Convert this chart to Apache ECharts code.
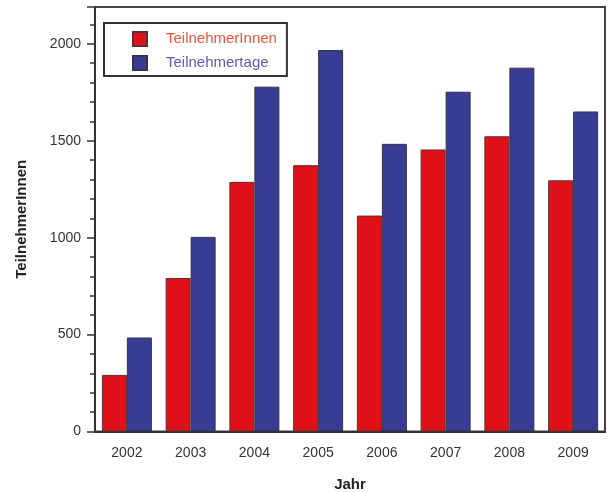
<!DOCTYPE html>
<html>
<head>
<meta charset="utf-8">
<script src="https://cdn.jsdelivr.net/npm/echarts@6/dist/echarts.min.js"></script>
<style>html,body{margin:0;padding:0;background:#fff;}#c{width:609px;height:492px;}</style>
</head>
<body>
<div id="c"></div>
<script>
var years = ['2002','2003','2004','2005','2006','2007','2008','2009'];
var teilnehmerInnen = [292, 792, 1288, 1374, 1114, 1455, 1523, 1296];
var teilnehmertage = [485, 1004, 1779, 1968, 1484, 1753, 1877, 1651];
var seriesNames = ['TeilnehmerInnen', 'Teilnehmertage'];
var xName = 'Jahr';
var yName = 'TeilnehmerInnen';

var chart = echarts.init(document.getElementById('c'), null, {renderer: 'canvas'});
var font = 'Liberation Sans, Arial, sans-serif';
chart.setOption({
  animation: false,
  backgroundColor: '#fff',
  grid: {left: 95, right: 4, top: 7, bottom: 60.5, containLabel: false, outerBoundsMode: 'none',
    show: true, borderColor: '#444', borderWidth: 2, backgroundColor: 'transparent'},
  legend: {
    left: 104, top: 23, orient: 'vertical',
    padding: [8, 10, 5, 28], itemGap: 8,
    itemWidth: 14, itemHeight: 14, icon: 'rect',
    borderColor: '#333', borderWidth: 2,
    data: [
      {name: seriesNames[0], textStyle: {color: '#e6543c'}},
      {name: seriesNames[1], textStyle: {color: '#5c5cb0'}}
    ],
    textStyle: {fontFamily: font, fontSize: 15, padding: [0, 0, 0, 14]}
  },
  xAxis: {
    type: 'category', data: years,
    name: xName, nameLocation: 'middle', nameGap: 46,
    nameTextStyle: {fontFamily: font, fontSize: 15, fontWeight: 'bold', color: '#222'},
    axisLine: {lineStyle: {color: '#333', width: 2}},
    axisTick: {show: false},
    axisLabel: {fontFamily: font, fontSize: 14, color: '#333', margin: 15}
  },
  yAxis: {
    type: 'value', min: 0, max: 2190, interval: 500,
    name: yName, nameLocation: 'middle', nameGap: 66,
    nameTextStyle: {fontFamily: font, fontSize: 15, fontWeight: 'bold', color: '#222'},
    axisLine: {show: true, lineStyle: {color: '#333', width: 2}},
    axisTick: {show: true, length: 8, lineStyle: {color: '#333', width: 1.5}},
    minorTick: {show: true, splitNumber: 5, length: 5, lineStyle: {color: '#333', width: 1.5}},
    splitLine: {show: false},
    axisLabel: {fontFamily: font, fontSize: 14, color: '#333', margin: 14, showMaxLabel: false,
      formatter: function (v) { return String(v); }}
  },
  series: [
    {name: seriesNames[0], type: 'bar', data: teilnehmerInnen, barGap: '0%', barCategoryGap: '21.6%',
     itemStyle: {color: '#e01018', borderColor: '#5a3030', borderWidth: 1}},
    {name: seriesNames[1], type: 'bar', data: teilnehmertage,
     itemStyle: {color: '#383c92', borderColor: '#33334a', borderWidth: 1}}
  ]
});
</script>
</body>
</html>
